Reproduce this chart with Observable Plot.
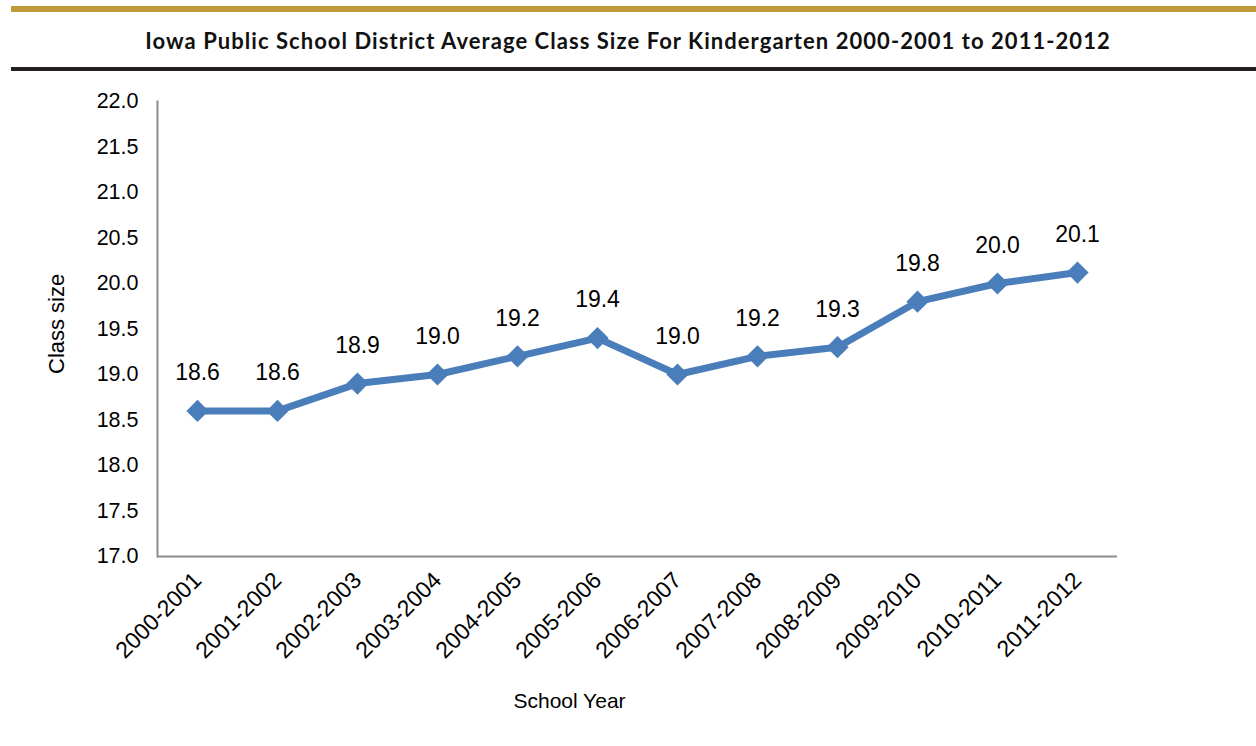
<!DOCTYPE html>
<html>
<head>
<meta charset="utf-8">
<script src="https://cdn.jsdelivr.net/npm/d3@7"></script>
<script src="https://cdn.jsdelivr.net/npm/@observablehq/plot@0.6"></script>
<style>
  html, body { margin: 0; padding: 0; background: #fff; }
  #wrap { width: 1256px; height: 746px; position: relative; overflow: hidden; }
  .gold { position: absolute; left: 11px; right: 0; top: 6px; height: 6px; background: #BE9A3A; }
  .black { position: absolute; left: 11px; right: 0; top: 67px; height: 4px; background: #231F20; }
  .title { position: absolute; left: 0; width: 1256px; top: 27px; text-align: center; letter-spacing: 1.05px;
           font-family: Lato, "Open Sans", sans-serif; font-weight: bold; font-size: 22px; color: #111; }
  #chart { position: absolute; left: 0; top: 75px; }
</style>
</head>
<body>
<div id="wrap">
  <div class="gold"></div>
  <div class="title">Iowa Public School District Average Class Size For Kindergarten 2000-2001 to 2011-2012</div>
  <div class="black"></div>
  <div id="chart"></div>
</div>
<script>
const years = ["2000-2001","2001-2002","2002-2003","2003-2004","2004-2005","2005-2006","2006-2007","2007-2008","2008-2009","2009-2010","2010-2011","2011-2012"];
const classSize = [18.6, 18.6, 18.9, 19.0, 19.2, 19.4, 19.0, 19.2, 19.3, 19.8, 20.0, 20.12];
const yTicks = [17.0, 17.5, 18.0, 18.5, 19.0, 19.5, 20.0, 20.5, 21.0, 21.5, 22.0];
const yLabel = "Class size";
const xLabel = "School Year";

const data = years.map((y, i) => ({year: y, size: classSize[i]}));
const blue = "#4A7EBB";
const axisGray = "#8c8c8c";

const chart = Plot.plot({
  width: 1256,
  height: 671,
  marginLeft: 157,
  marginRight: 139,
  marginTop: 26,
  marginBottom: 190,
  style: {fontFamily: "'Liberation Sans', Arial, sans-serif", fontSize: "21px", color: "#000", background: "#fff"},
  x: {type: "band", domain: years, paddingInner: 0, paddingOuter: 0, label: null},
  y: {domain: [17, 22], label: null},
  marks: [
    Plot.frame({anchor: "left", stroke: axisGray, strokeWidth: 2}),
    Plot.ruleY([17], {stroke: axisGray, strokeWidth: 2}),
    Plot.axisY({ticks: yTicks, tickFormat: d => d.toFixed(1), tickSize: 0, tickPadding: 19, fill: "#000", fontSize: 21.5, label: null}),
    Plot.axisX({tickSize: 0, tickRotate: -45, tickPadding: 20, fill: "#000", fontSize: 23, label: null}),
    Plot.line(data, {x: "year", y: "size", stroke: blue, strokeWidth: 7, strokeLinejoin: "round"}),
    Plot.dot(data, {x: "year", y: "size", symbol: "diamond2", r: 10, fill: blue, stroke: "none"}),
    Plot.text(data, {x: "year", y: "size", text: d => d.size.toFixed(1), dy: -38, fontSize: 23, fill: "#000"}),
    Plot.text([yLabel], {frameAnchor: "left", dx: -101, dy: 45, rotate: -90, fontSize: 22, fill: "#000"}),
    Plot.text([xLabel], {frameAnchor: "bottom", dx: -68, dy: 151, fontSize: 21, fill: "#000"})
  ]
});
document.getElementById("chart").appendChild(chart);
</script>
</body>
</html>
